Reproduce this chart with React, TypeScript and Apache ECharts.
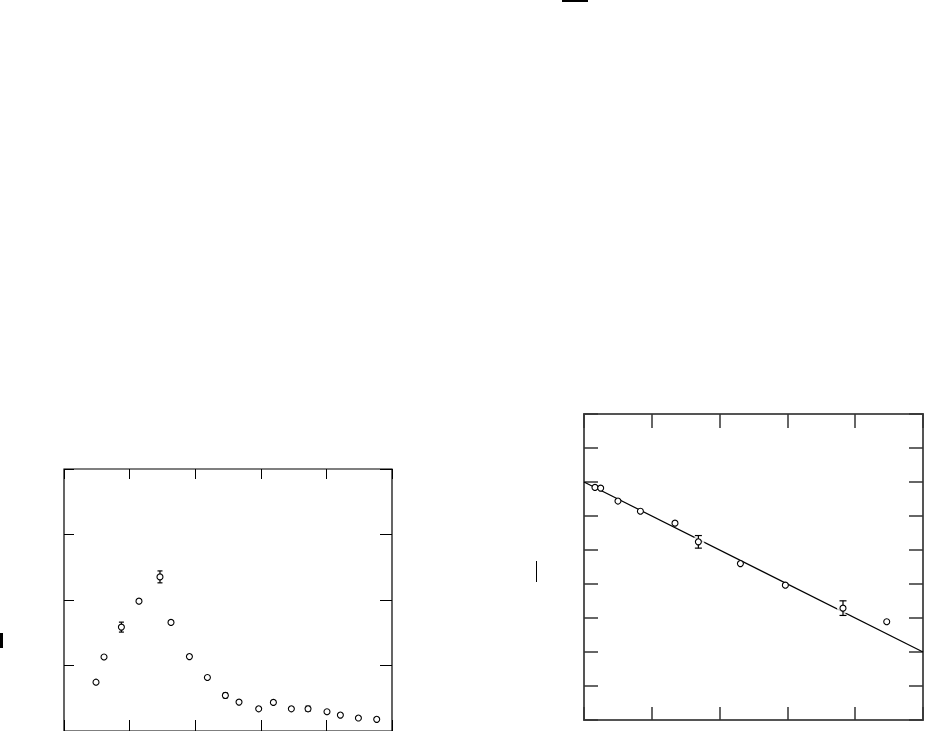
import React, { useEffect, useRef } from "react";
import * as echarts from "echarts";

// Left panel: peaked distribution
const leftX = [4.88, 6.1, 8.75, 11.43, 14.63, 16.31, 19.12, 21.86, 24.6, 26.68, 29.68, 31.92, 34.66, 37.2, 40.09, 42.13, 44.88, 47.67];
const leftY = [7.45, 11.3, 15.86, 19.82, 23.53, 16.58, 11.36, 8.17, 5.43, 4.41, 3.39, 4.37, 3.39, 3.39, 2.94, 2.43, 1.98, 1.78];
// error bars: [x, y, halfError]
const leftErr = [
  [8.75, 15.86, 0.76],
  [14.63, 23.53, 0.91],
  [24.6, 5.43, 0.38],
  [37.2, 3.39, 0.4],
];

// Right panel: linear decline with fit
const rightX = [1.62, 2.46, 5.01, 8.32, 13.42, 16.87, 23.07, 29.7, 38.2, 44.65];
const rightY = [68.4, 68.2, 64.4, 61.4, 57.9, 52.4, 46.0, 39.65, 32.9, 28.9];
const rightErr = [
  [16.87, 52.4, 1.85],
  [38.2, 32.9, 2.15],
];
const fitLine = [
  [0, 70],
  [50, 20],
];

const leftMax = { x: 50, y: 40 };
const rightMax = { x: 50, y: 90 };

function errRender(cap: number, color: string) {
  return (params: any, api: any) => {
    const x = api.value(0);
    const y = api.value(1);
    const e = api.value(2);
    const top = api.coord([x, y + e]);
    const bot = api.coord([x, y - e]);
    const style = { stroke: color, lineWidth: 1.2 };
    return {
      type: "group",
      children: [
        { type: "line", shape: { x1: top[0], y1: top[1], x2: bot[0], y2: bot[1] }, style },
        { type: "line", shape: { x1: top[0] - cap, y1: top[1], x2: top[0] + cap, y2: top[1] }, style },
        { type: "line", shape: { x1: bot[0] - cap, y1: bot[1], x2: bot[0] + cap, y2: bot[1] }, style },
      ],
    };
  };
}

export default function App() {
  const ref = useRef<HTMLDivElement>(null);
  useEffect(() => {
    if (!ref.current) return;
    const chart = echarts.init(ref.current, undefined, { renderer: "svg" });
    const tickL = (len: number) => ({ show: true, inside: true, length: len, lineStyle: { color: "#000", width: 1 } });
    const tickR = (len: number) => ({ show: true, inside: true, length: len, lineStyle: { color: "#333", width: 1.5 } });
    const hidden = { axisLabel: { show: false }, splitLine: { show: false }, axisLine: { show: false, onZero: false } };
    const xAxis: any[] = [
      { gridIndex: 0, type: "value", min: 0, max: leftMax.x, interval: 10, position: "bottom", axisTick: tickL(11), ...hidden },
      { gridIndex: 0, type: "value", min: 0, max: leftMax.x, interval: 10, position: "top", axisTick: tickL(10), ...hidden },
      { gridIndex: 1, type: "value", min: 0, max: rightMax.x, interval: 10, position: "bottom", axisTick: tickR(13), ...hidden },
      { gridIndex: 1, type: "value", min: 0, max: rightMax.x, interval: 10, position: "top", axisTick: tickR(14), ...hidden },
    ];
    const yAxis: any[] = [
      { gridIndex: 0, type: "value", min: 0, max: leftMax.y, interval: 10, position: "left", axisTick: tickL(10), ...hidden },
      { gridIndex: 0, type: "value", min: 0, max: leftMax.y, interval: 10, position: "right", axisTick: tickL(12), ...hidden },
      { gridIndex: 1, type: "value", min: 0, max: rightMax.y, interval: 10, position: "left", axisTick: tickR(14), ...hidden },
      { gridIndex: 1, type: "value", min: 0, max: rightMax.y, interval: 10, position: "right", axisTick: tickR(14), ...hidden },
    ];
    const marker = {
      type: "scatter",
      symbol: "circle",
      symbolSize: 6,
      itemStyle: { color: "#fff", borderColor: "#000", borderWidth: 1.1, opacity: 1 },
      z: 5,
    };
    chart.setOption({
      animation: false,
      backgroundColor: "#fff",
      grid: [
        { left: 64, top: 469, width: 328, height: 263, show: true, borderColor: "#000", borderWidth: 1.2, backgroundColor: "transparent" },
        { left: 584, top: 414, width: 339, height: 306, show: true, borderColor: "#555", borderWidth: 2, backgroundColor: "transparent" },
      ],
      xAxis,
      yAxis,
      graphic: [
        { type: "rect", shape: { x: 562, y: 0, width: 26, height: 2 }, style: { fill: "#000" } },
        { type: "rect", shape: { x: 0, y: 633, width: 3, height: 15 }, style: { fill: "#000" } },
        { type: "rect", shape: { x: 536, y: 561, width: 1, height: 21 }, style: { fill: "#000" } },
      ],
      series: [
        // left panel
        {
          type: "custom",
          xAxisIndex: 0,
          yAxisIndex: 0,
          renderItem: errRender(2.5, "#000"),
          data: leftErr,
          z: 4,
        },
        { ...marker, xAxisIndex: 0, yAxisIndex: 0, data: leftX.map((x, i) => [x, leftY[i]]) },
        // right panel
        {
          type: "line",
          xAxisIndex: 2,
          yAxisIndex: 2,
          data: fitLine,
          symbol: "none",
          lineStyle: { color: "#000", width: 1.2 },
          z: 2,
        },
        {
          type: "scatter",
          xAxisIndex: 2,
          yAxisIndex: 2,
          symbol: "circle",
          symbolSize: 12,
          itemStyle: { color: "#fff", borderWidth: 0 },
          data: rightErr.map((d) => [d[0], d[1]]),
          z: 3,
        },
        {
          type: "custom",
          xAxisIndex: 2,
          yAxisIndex: 2,
          renderItem: errRender(3.5, "#000"),
          data: rightErr,
          z: 4,
        },
        { ...marker, xAxisIndex: 2, yAxisIndex: 2, data: rightX.map((x, i) => [x, rightY[i]]) },
      ],
    });
    return () => chart.dispose();
  }, []);
  return (
    <div
      ref={ref}
      style={{ position: "fixed", left: 0, top: 0, width: 925, height: 731, overflow: "hidden", background: "#fff" }}
    />
  );
}
